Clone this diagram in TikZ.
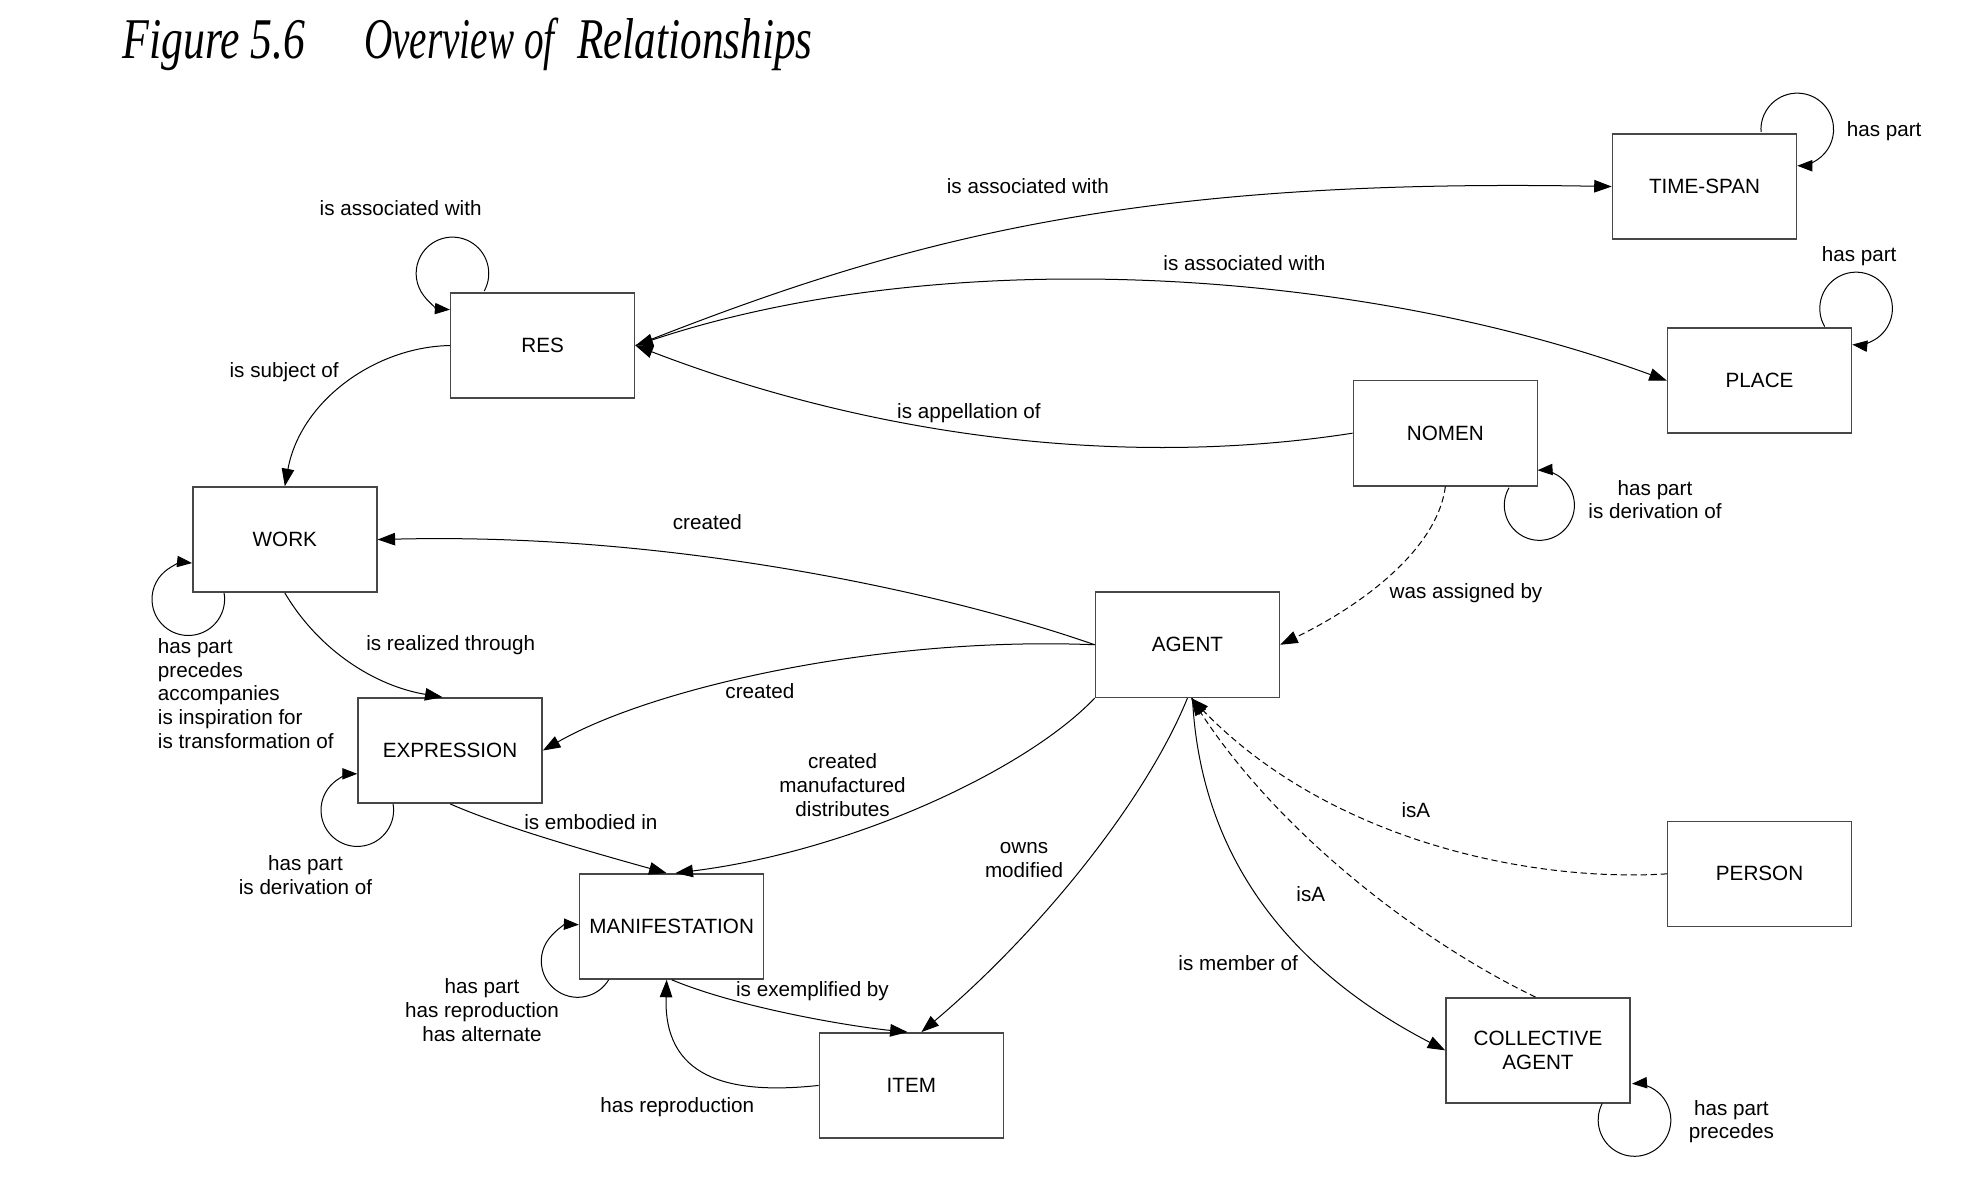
\documentclass[tikz,border=0pt]{standalone}
\usepackage{fontspec}
\setmainfont{Liberation Sans}
\newfontfamily\titlefont{Liberation Serif}
\usetikzlibrary{arrows.meta,calc}
\begin{document}
\begin{tikzpicture}[x=1pt,y=-1pt,
  >={Triangle[length=14pt,width=10pt]},
  every node/.style={font=\fontsize{16.5}{19}\selectfont},
  entity/.style={draw=black!72, line width=1.2pt, minimum width=147pt, minimum height=84pt, inner sep=0pt, align=center, fill=white},
  conn/.style={line width=0.8pt, ->},
  bothconn/.style={line width=0.8pt, <->},
  dconn/.style={conn, dash pattern=on 5pt off 3pt},
  looparc/.style={line width=0.8pt, -{Triangle[length=12pt,width=9pt]}},
  lbl/.style={inner sep=0pt, text height=12pt, text depth=3.5pt},
  mlbl/.style={inner sep=0pt, align=center},
  ttl/.style={inner sep=0pt, anchor=base}
]
\fill[white] (0,0) rectangle (1568,946);
\useasboundingbox (0,0) rectangle (1568,946);

% title
\node[ttl] (t1) at (171,47) {\scalebox{0.76}[1]{\titlefont\itshape\fontsize{46}{50}\selectfont Figure 5.6}};
\node[ttl] (t2) at (367,47) {\scalebox{0.68}[1]{\titlefont\itshape\fontsize{46}{50}\selectfont Overview of}};
\node[ttl] (t3) at (555,47) {\scalebox{0.75}[1]{\titlefont\itshape\fontsize{46}{50}\selectfont Relationships}};

% entities
\node[entity] (TS) at (1361.5,149) {TIME-SPAN};
\node[entity] (RES) at (433.5,276) {RES};
\node[entity] (PLACE) at (1405.5,304) {PLACE};
\node[entity] (NOMEN) at (1154.5,346) {NOMEN};
\node[entity] (WORK) at (227.5,431) {WORK};
\node[entity] (AGENT) at (948.5,515) {AGENT};
\node[entity] (EXPR) at (359.5,599.5) {EXPRESSION};
\node[entity] (PERSON) at (1405.5,698) {PERSON};
\node[entity] (MANI) at (536.5,740) {MANIFESTATION};
\node[entity] (ITEM) at (728,867) {ITEM};
\node[entity] (COLL) at (1228.5,839) {COLLECTIVE\\AGENT};

% loop centres
\coordinate (cTS) at ($(TS.north east)+(0,-3)$);
\coordinate (cPL) at ($(PLACE.north east)+(3,-15)$);
\coordinate (cRES) at ($(RES.north west)+(2,-15)$);
\coordinate (cNO) at ($(NOMEN.south east)+(1,15)$);
\coordinate (cWO) at ($(WORK.south west)+(-3,5)$);
\coordinate (cEX) at ($(EXPR.south west)+(0,5)$);
\coordinate (cMA) at ($(MANI.south west)+(-1,-15)$);
\coordinate (cCO) at ($(COLL.south east)+(3,13)$);

% self loops
\draw[looparc] ($(cTS)+(184:29pt)$) arc[start angle=184, end angle=-90, radius=29pt];
\draw[looparc] ($(cPL)+(210:29pt)$) arc[start angle=210, end angle=-96, radius=29pt];
\draw[looparc] ($(cRES)+(-29:29pt)$) arc[start angle=-29, end angle=266, radius=29pt];
\draw[looparc] ($(cNO)+(150:28pt)$) arc[start angle=150, end angle=453, radius=28pt];
\draw[looparc] ($(cWO)+(10:29pt)$) arc[start angle=10, end angle=-276, radius=29pt];
\draw[looparc] ($(cEX)+(10:29pt)$) arc[start angle=10, end angle=-270, radius=29pt];
\draw[looparc] ($(cMA)+(-31:29pt)$) arc[start angle=-31, end angle=-272, radius=29pt];
\draw[looparc] ($(cCO)+(153:29pt)$) arc[start angle=153, end angle=454, radius=29pt];

% connectors
\draw[conn] (RES.east) .. controls (720,192) and (900,142) .. (TS.west);
\draw[bothconn] (RES.east) .. controls (750,195) and (1080,212) .. (PLACE.west);
\draw[conn] (NOMEN.west) .. controls (900,374) and (700,350) .. (RES.east);
\draw[conn] (RES.west) .. controls (300,277) and (240,320) .. (WORK.north);
\draw[conn] (AGENT.west) .. controls (760,475) and (540,425) .. (WORK.east);
\draw[dconn] (NOMEN.south) .. controls (1148,440) and (1085,485) .. (AGENT.east);
\draw[conn] (WORK.south) .. controls (255,520) and (300,548) .. ($(EXPR.north)+(-6,0)$);
\draw[conn] (AGENT.west) .. controls (700,508) and (520,550) .. (EXPR.east);
\draw[conn] (AGENT.south west) .. controls (820,615) and (680,680) .. ($(MANI.north)+(3,0)$);
\draw[conn] (EXPR.south) .. controls (400,660) and (470,680) .. ($(MANI.north)+(-4,0)$);
\draw[conn] (MANI.south) .. controls (590,805) and (680,820) .. ($(ITEM.north)+(-3,0)$);
\draw[conn] (ITEM.west) .. controls (580,875) and (530,860) .. ($(MANI.south)+(-4,0)$);
\draw[conn] (AGENT.south) .. controls (915,640) and (830,745) .. ($(ITEM.north)+(8,0)$);
\draw[conn] ($(AGENT.south)+(4,0)$) .. controls (960,710) and (1060,790) .. (COLL.west);
\draw[dconn] (PERSON.west) .. controls (1220,705) and (1060,670) .. ($(AGENT.south)+(3,0)$);
\draw[dconn] ($(COLL.north)+(-2,0)$) .. controls (1140,755) and (1025,670) .. ($(AGENT.south)+(3,0)$);

% labels
\node[lbl] (l1) at (320,168) {is associated with};
\node[lbl] (l2) at (821,150) {is associated with};
\node[lbl] (l3) at (994,212) {is associated with};
\node[lbl] (l4) at (1505,105) {has part};
\node[lbl] (l5) at (1485,205) {has part};
\node[lbl] (l6) at (227,297) {is subject of};
\node[lbl] (l7) at (774,330) {is appellation of};
\node[mlbl] (l8) at (1322,399) {has part\\is derivation of};
\node[lbl] (l9) at (565,419) {created};
\node[lbl] (l10) at (1171,474) {was assigned by};
\node[mlbl, align=left, anchor=west] (l11) at (126,554) {has part\\precedes\\accompanies\\is inspiration for\\is transformation of};
\node[lbl] (l12) at (360,515) {is realized through};
\node[lbl] (l13) at (607,554) {created};
\node[mlbl] (l14) at (673,627) {created\\manufactured\\distributes};
\node[mlbl] (l15) at (244,699) {has part\\is derivation of};
\node[lbl] (l16) at (472,658) {is embodied in};
\node[mlbl] (l17) at (818,687) {owns\\modified};
\node[lbl] (l18) at (1131,649) {isA};
\node[lbl] (l19) at (1047,716) {isA};
\node[lbl] (l20) at (989,771) {is member of};
\node[mlbl] (l21) at (385,807) {has part\\has reproduction\\has alternate};
\node[lbl] (l22) at (649,792) {is exemplified by};
\node[lbl] (l23) at (541,884) {has reproduction};
\node[mlbl] (l24) at (1383,896) {has part\\precedes};
\end{tikzpicture}
\end{document}
